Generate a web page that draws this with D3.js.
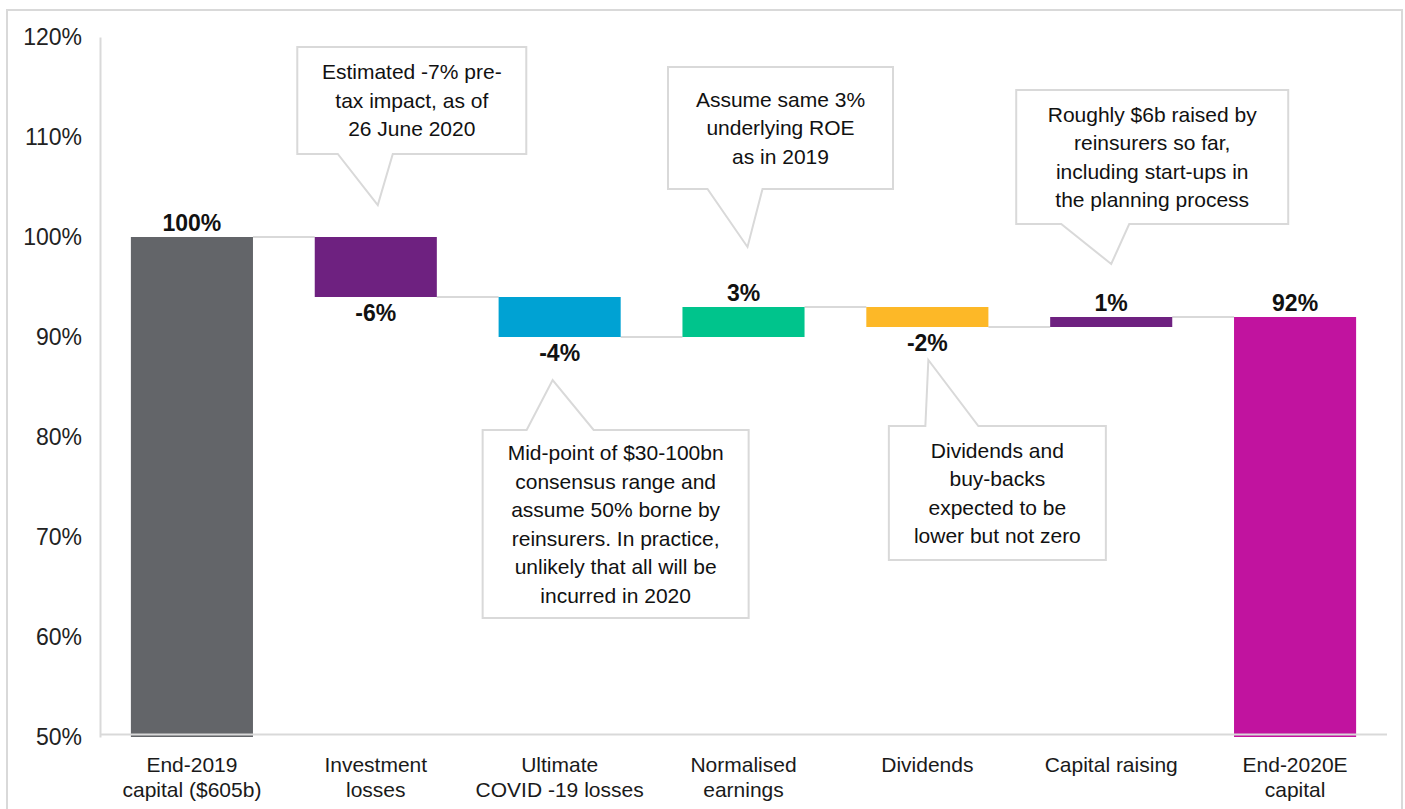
<!DOCTYPE html>
<html>
<head>
<meta charset="utf-8">
<script src="https://cdn.jsdelivr.net/npm/d3@7"></script>
<style>
  html, body { margin: 0; padding: 0; background: #ffffff; }
  svg { display: block; font-family: Arial, "Liberation Sans", Helvetica, sans-serif; }
</style>
</head>
<body>
<svg id="chart" width="1405" height="809"></svg>
<script>
// ---- data ----
const categories = [
  "End-2019|capital ($605b)",
  "Investment|losses",
  "Ultimate|COVID -19 losses",
  "Normalised|earnings",
  "Dividends",
  "Capital raising",
  "End-2020E|capital"
];
// totals are absolute levels, the rest are changes to the running total (% of end-2019 capital)
const barKinds = ["total", "delta", "delta", "delta", "delta", "delta", "total"];
const barValues = [100, -6, -4, 3, -2, 1, 92];
const barColors = ["#636569", "#6e2180", "#00a2d3", "#00c48c", "#fdb827", "#6e2180", "#c1139f"];
const yTicks = [50, 60, 70, 80, 90, 100, 110, 120];

const notes = [
  { category: "Investment|losses", lines: ["Estimated -7% pre-", "tax impact, as of", "26 June 2020"] },
  { category: "Normalised|earnings", lines: ["Assume same 3%", "underlying ROE", "as in 2019"] },
  { category: "Capital raising", lines: ["Roughly $6b raised by", "reinsurers so far,", "including start-ups in", "the planning process"] },
  { category: "Ultimate|COVID -19 losses", lines: ["Mid-point of $30-100bn", "consensus range and", "assume 50% borne by", "reinsurers.  In practice,", "unlikely that all will be", "incurred in 2020"] },
  { category: "Dividends", lines: ["Dividends and", "buy-backs", "expected to be", "lower but not zero"] }
];

// ---- callout geometry (x offsets in px from the band centre, y in axis units) ----
const noteLayout = [
  { dx: 36,  w: 229, top: 119.0, bottom: 108.3, baseL: -38, baseR: 17, tipDx: 2,  tipY: 103.2 },
  { dx: 37,  w: 225, top: 117.0, bottom: 104.8, baseL: -36, baseR: 19, tipDx: 4,  tipY: 99.0 },
  { dx: 41,  w: 272, top: 114.7, bottom: 101.3, baseL: -50, baseR: 18, tipDx: 0,  tipY: 97.3 },
  { dx: 56,  w: 266, top: 80.7,  bottom: 61.9,  baseL: -33, baseR: 34, tipDx: -7, tipY: 85.7 },
  { dx: 70,  w: 217, top: 81.1,  bottom: 67.7,  baseL: -2,  baseR: 51, tipDx: 1,  tipY: 87.7 }
];

// ---- set-up ----
const svg = d3.select("#chart");
const FONT = 21;        // category labels and callouts
const FONT_BIG = 23;    // axis ticks and value labels
const plot = { left: 100, right: 1387, top: 37, bottom: 737 };

const x = d3.scaleBand()
  .domain(categories)
  .range([plot.left, plot.right])
  .paddingInner(0.336)
  .paddingOuter(0.168);

const y = d3.scaleLinear()
  .domain([50, 120])
  .range([plot.bottom, plot.top]);

// outer frame
svg.append("rect")
  .attr("x", 7).attr("y", 10)
  .attr("width", 1395).attr("height", 820)
  .attr("fill", "none")
  .attr("stroke", "#d9d9d9")
  .attr("stroke-width", 2);

// waterfall geometry
let running = 0;
const bars = categories.map((c, i) => {
  let lo, hi, end;
  if (barKinds[i] === "total") {
    lo = y.domain()[0]; hi = barValues[i]; end = barValues[i];
  } else {
    const start = running;
    end = running + barValues[i];
    lo = Math.min(start, end); hi = Math.max(start, end);
  }
  running = end;
  return { category: c, kind: barKinds[i], value: barValues[i], lo, hi, end, color: barColors[i] };
});

// y axis (line + labels, no tick marks)
const yAxis = d3.axisLeft(y)
  .tickValues(yTicks)
  .tickFormat(d => d + "%")
  .tickSize(0)
  .tickPadding(18);

const gy = svg.append("g")
  .attr("transform", `translate(${plot.left},0)`)
  .call(yAxis);
gy.select(".domain").attr("stroke", "#d9d9d9").attr("stroke-width", 2);
gy.selectAll(".tick text")
  .attr("font-size", FONT_BIG)
  .attr("font-family", "Arial, 'Liberation Sans', sans-serif")
  .attr("fill", "#222");

// connectors between consecutive bars
const connectors = bars.slice(0, -1).map((b, i) => ({
  x1: x(b.category) + x.bandwidth(),
  x2: x(bars[i + 1].category),
  level: b.end
}));
svg.append("g").selectAll("line")
  .data(connectors)
  .join("line")
  .attr("x1", d => d.x1)
  .attr("x2", d => d.x2)
  .attr("y1", d => y(d.level))
  .attr("y2", d => y(d.level))
  .attr("stroke", "#d9d9d9")
  .attr("stroke-width", 2);

// bars
svg.append("g").selectAll("rect")
  .data(bars)
  .join("rect")
  .attr("x", d => x(d.category))
  .attr("width", x.bandwidth())
  .attr("y", d => y(d.hi))
  .attr("height", d => y(d.lo) - y(d.hi))
  .attr("fill", d => d.color);

// x axis baseline, drawn over the bar feet
svg.append("line")
  .attr("x1", plot.left).attr("x2", plot.right)
  .attr("y1", y(50) - 2.5).attr("y2", y(50) - 2.5)
  .attr("stroke", "#d9d9d9")
  .attr("stroke-width", 2);

// value labels
svg.append("g").selectAll("text")
  .data(bars)
  .join("text")
  .attr("x", d => x(d.category) + x.bandwidth() / 2)
  .attr("y", d => (d.kind === "delta" && d.value < 0) ? y(d.lo) + 24 : y(d.hi) - 6)
  .attr("text-anchor", "middle")
  .attr("font-size", FONT_BIG)
  .attr("font-weight", "bold")
  .attr("fill", "#111")
  .text(d => d.value + "%");

// category labels
const cat = svg.append("g").selectAll("text")
  .data(categories)
  .join("text")
  .attr("x", d => x(d) + x.bandwidth() / 2)
  .attr("y", 772)
  .attr("text-anchor", "middle")
  .attr("font-size", FONT)
  .attr("fill", "#1a1a1a");
cat.selectAll("tspan")
  .data(d => d.split("|"))
  .join("tspan")
  .attr("x", function () { return d3.select(this.parentNode).attr("x"); })
  .attr("dy", (d, i) => i === 0 ? 0 : 25)
  .text(d => d);

// callouts
const LINE_H = 28.5;
notes.forEach((n, i) => {
  const L = noteLayout[i];
  const cx = x(n.category) + x.bandwidth() / 2;
  const bx = cx + L.dx;
  const left = bx - L.w / 2, right = bx + L.w / 2;
  const top = y(L.top), bottom = y(L.bottom);
  const tipX = cx + L.tipDx, tipY = y(L.tipY);
  const tailDown = L.tipY < L.bottom;
  let pts;
  if (tailDown) {
    pts = [[left, top], [right, top], [right, bottom], [cx + L.baseR, bottom],
           [tipX, tipY], [cx + L.baseL, bottom], [left, bottom]];
  } else {
    pts = [[left, top], [cx + L.baseL, top], [tipX, tipY], [cx + L.baseR, top],
           [right, top], [right, bottom], [left, bottom]];
  }
  const g = svg.append("g");
  g.append("path")
    .attr("d", d3.line()(pts) + "Z")
    .attr("fill", "#ffffff")
    .attr("stroke", "#d9d9d9")
    .attr("stroke-width", 2)
    .attr("stroke-linejoin", "miter");
  const midY = (top + bottom) / 2;
  const firstY = midY - (n.lines.length - 1) * LINE_H / 2;
  g.selectAll("text")
    .data(n.lines)
    .join("text")
    .attr("x", bx)
    .attr("y", (d, k) => firstY + k * LINE_H)
    .attr("dy", "0.35em")
    .attr("text-anchor", "middle")
    .attr("font-size", FONT)
    .attr("fill", "#111")
    .text(d => d);
});
</script>
</body>
</html>
